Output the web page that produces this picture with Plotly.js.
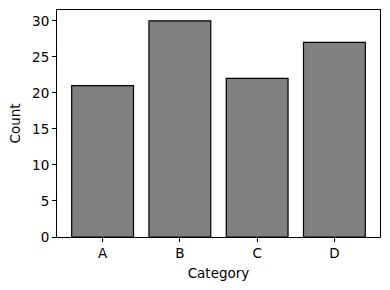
<!DOCTYPE html>
<html>
<head>
<meta charset="utf-8">
<script src="https://cdn.plot.ly/plotly-3.0.1.min.js"></script>
<style>html,body{margin:0;padding:0;background:#fff;}#chart{width:390px;height:290px;}</style>
</head>
<body>
<div id="chart"></div>
<script>
const categories = ["A", "B", "C", "D"];
const counts = [21, 30, 22, 27];

const trace = {
  type: "bar",
  x: categories,
  y: counts,
  width: 0.8,
  marker: { color: "#808080", line: { color: "#000000", width: 1.2 } },
  hoverinfo: "x+y"
};

const axisCommon = {
  showline: true,
  mirror: true,
  linecolor: "#000",
  linewidth: 1,
  ticks: "outside",
  ticklen: 4,
  tickwidth: 1,
  tickcolor: "#000",
  showgrid: false,
  zeroline: false,
  tickfont: { family: "DejaVu Sans", size: 13.5, color: "#000" }
};

const layout = {
  width: 390,
  height: 290,
  margin: { l: 57, r: 10, t: 10, b: 53 },
  paper_bgcolor: "#fff",
  plot_bgcolor: "#fff",
  showlegend: false,
  font: { family: "DejaVu Sans", size: 13.5, color: "#000" },
  xaxis: Object.assign({}, axisCommon, {
    type: "category",
    range: [-0.59, 3.59],
    title: { text: "Category", font: { family: "DejaVu Sans", size: 13.5, color: "#000" }, standoff: 8 }
  }),
  yaxis: Object.assign({}, axisCommon, {
    range: [0, 31.5],
    tickvals: [0, 5, 10, 15, 20, 25, 30],
    title: { text: "Count", font: { family: "DejaVu Sans", size: 13.5, color: "#000" }, standoff: 8 }
  })
};

Plotly.newPlot("chart", [trace], layout, { displayModeBar: false, staticPlot: true });
</script>
</body>
</html>
